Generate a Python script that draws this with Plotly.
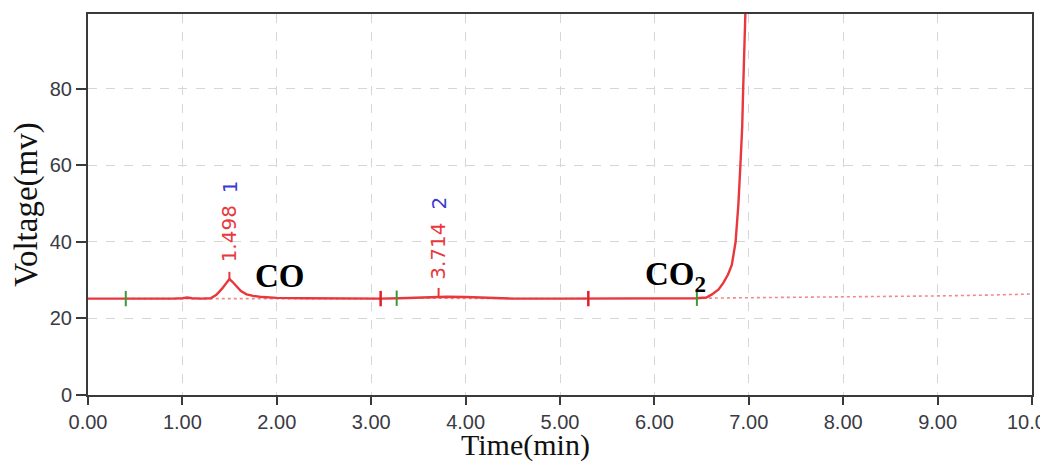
import plotly.graph_objects as go

# ---- chromatogram trace ----
time_min = [0.00, 0.30, 0.60, 0.90, 1.00, 1.05, 1.10, 1.20, 1.30, 1.36, 1.42, 1.46, 1.498,
            1.53, 1.57, 1.62, 1.68, 1.75, 1.85, 2.00, 2.30, 2.70, 3.10, 3.30, 3.50, 3.65,
            3.714, 3.80, 4.00, 4.20, 4.50, 5.00, 5.30, 5.80, 6.20, 6.45, 6.55, 6.61, 6.68,
            6.73, 6.78, 6.82, 6.86, 6.89, 6.91, 6.93, 6.94, 6.95, 6.965]
voltage_mv = [25.2, 25.2, 25.1, 25.2, 25.3, 25.5, 25.3, 25.2, 25.3, 26.2, 27.8, 29.2, 30.3,
              29.6, 28.4, 27.2, 26.3, 25.9, 25.6, 25.4, 25.3, 25.2, 25.2, 25.3, 25.5, 25.7,
              25.8, 25.7, 25.6, 25.4, 25.2, 25.2, 25.2, 25.2, 25.2, 25.3, 25.5, 26.3, 27.6,
              29.3, 31.5, 34.0, 40.0, 50.0, 59.6, 70.0, 79.7, 90.0, 101.0]

# integration baselines (dotted)
base1_x = [0.40, 3.10]
base1_y = [25.2, 25.2]
base2_x = [3.27, 5.30]
base2_y = [25.3, 25.2]
base3_x = [6.45, 7.00, 7.50, 8.00, 8.50, 9.00, 9.50, 10.00]
base3_y = [25.3, 25.4, 25.5, 25.6, 25.8, 25.9, 26.1, 26.4]

# peak-start / peak-end event markers
start_x = [0.40, 3.27, 6.45]
start_y = [25.2, 25.3, 25.3]
end_x = [3.10, 5.30]
end_y = [25.2, 25.2]

# peak apex labels
peak_rt = [1.498, 3.714]
peak_apex = [30.3, 25.8]
peak_tick_top = [32.2, 28.0]
peak_rt_text = ["1.498", "3.714"]
peak_rt_label_y = [42.1, 37.6]
peak_num = ["1", "2"]
peak_num_y = [54.4, 50.2]

# compound labels
comp_text = ["CO", "CO<sub>2</sub>"]
comp_x = [2.03, 6.22]
comp_y = [31.1, 31.0]

x_ticks = [0, 1, 2, 3, 4, 5, 6, 7, 8, 9, 10]
y_ticks = [0, 20, 40, 60, 80]

RED = "#e8383d"
fig = go.Figure()

for bx, by in [(base1_x, base1_y), (base2_x, base2_y), (base3_x, base3_y)]:
    fig.add_trace(go.Scatter(x=bx, y=by, mode="lines",
                             line=dict(color="#f08a8a", width=1.6, dash="dot"),
                             hoverinfo="skip", showlegend=False))

fig.add_trace(go.Scatter(x=time_min, y=voltage_mv, mode="lines",
                         line=dict(color=RED, width=2.4), showlegend=False))

# apex ticks
tx, ty = [], []
for rt, a, t in zip(peak_rt, peak_apex, peak_tick_top):
    tx += [rt, rt, None]
    ty += [a, t, None]
fig.add_trace(go.Scatter(x=tx, y=ty, mode="lines", line=dict(color=RED, width=2),
                         showlegend=False, hoverinfo="skip"))

fig.add_trace(go.Scatter(x=start_x, y=start_y, mode="markers",
                         marker=dict(symbol="line-ns", size=11,
                                     line=dict(color="#3a9a3a", width=2)),
                         showlegend=False))
fig.add_trace(go.Scatter(x=end_x, y=end_y, mode="markers",
                         marker=dict(symbol="line-ns", size=11,
                                     line=dict(color="#e0202a", width=2.5)),
                         showlegend=False))

for rt, txt, ly, num, ny in zip(peak_rt, peak_rt_text, peak_rt_label_y, peak_num, peak_num_y):
    fig.add_annotation(x=rt, y=ly, text=txt, textangle=-90, showarrow=False,
                       font=dict(family="DejaVu Sans", size=20, color=RED))
    fig.add_annotation(x=rt, y=ny, text=num, textangle=-90, showarrow=False,
                       font=dict(family="DejaVu Sans", size=20, color="#3a3ad0"))

for t, cx, cy in zip(comp_text, comp_x, comp_y):
    fig.add_annotation(x=cx, y=cy, text="<b>" + t + "</b>", showarrow=False,
                       font=dict(family="Liberation Serif", size=33, color="#000000"))

# x-axis title (placed left of centre as in the reference)
fig.add_annotation(x=4.63, xref="x", y=0, yref="paper", yshift=-50, yanchor="middle",
                   text="Time(min)", showarrow=False,
                   font=dict(family="Liberation Serif", size=30, color="#111111"))

axis_common = dict(showline=True, linecolor="#3a3a3a", linewidth=2, mirror=True,
                   ticks="outside", tickcolor="#3a3a3a", tickwidth=2,
                   showgrid=True, gridcolor="#d6d6d6", griddash="dash", gridwidth=1,
                   zeroline=False, ticklabeloverflow="allow", automargin=False,
                   tickfont=dict(family="Liberation Sans", size=20, color="#3a3a44"))

fig.update_xaxes(range=[0, 10], tickvals=x_ticks, tickformat=".2f", ticklen=8,
                 **axis_common)
fig.update_yaxes(range=[0, 99.6], tickvals=y_ticks, ticklen=10,
                 title=dict(text="Voltage(mv)", standoff=2,
                            font=dict(family="Liberation Serif", size=33, color="#111111")),
                 **axis_common)

fig.update_layout(width=1040, height=462, margin=dict(l=88, r=8, t=14, b=67),
                  plot_bgcolor="white", paper_bgcolor="white")

fig.write_html("out.html")
